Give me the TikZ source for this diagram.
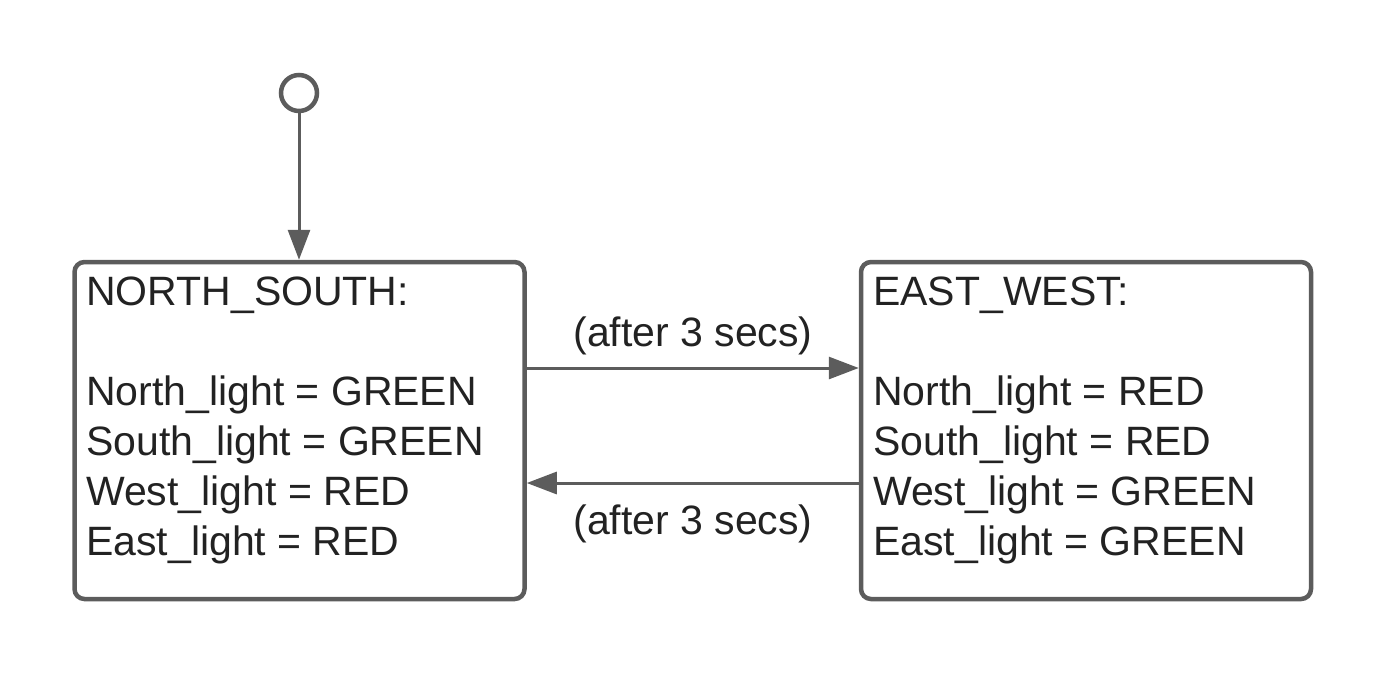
\documentclass[tikz,border=0pt]{standalone}
\usepackage{fontspec}
\setmainfont{Liberation Sans}
\usetikzlibrary{arrows.meta}
\definecolor{linegray}{HTML}{5C5C5C}
\definecolor{textdark}{HTML}{222222}
\tikzset{
  state/.style={draw=linegray, line width=4.5pt, rounded corners=10pt,
    minimum width=450pt, minimum height=337pt, inner sep=0pt},
  initstate/.style={draw=linegray, line width=4.5pt, circle, minimum size=36pt, inner sep=0pt},
  txt/.style={font=\fontsize{41}{50}\selectfont, text=textdark, inner sep=0pt, align=left},
  conn/.style={draw=linegray, line width=3pt, -{Triangle[length=30pt,width=22pt]}}
}
\begin{document}
\begin{tikzpicture}[x=1pt,y=-1pt]
\useasboundingbox (0,0) rectangle (1388,675);
\node[initstate] (init) at (299,93) {};
\node[state] (ns) at (299.5,430.5) {};
\node[state] (ew) at (1086,430.5) {};
\node[txt, anchor=base west] (nstxt) at (86,555) {NORTH\_SOUTH:\\[50pt]North\_light = GREEN\\South\_light = GREEN\\West\_light = RED\\East\_light = RED};
\node[txt, anchor=base west] (ewtxt) at (873,555) {EAST\_WEST:\\[50pt]North\_light = RED\\South\_light = RED\\West\_light = GREEN\\East\_light = GREEN};
\draw[conn] (init) -- (init |- ns.north);
\draw[conn] (ns.east |- 0,368) -- (ew.west |- 0,368);
\draw[conn] (ew.west |- 0,483) -- (ns.east |- 0,483);
\node[txt, anchor=base] (lab1) at (693,346) {(after 3 secs)};
\node[txt, anchor=base] (lab2) at (693,534) {(after 3 secs)};
\end{tikzpicture}
\end{document}
